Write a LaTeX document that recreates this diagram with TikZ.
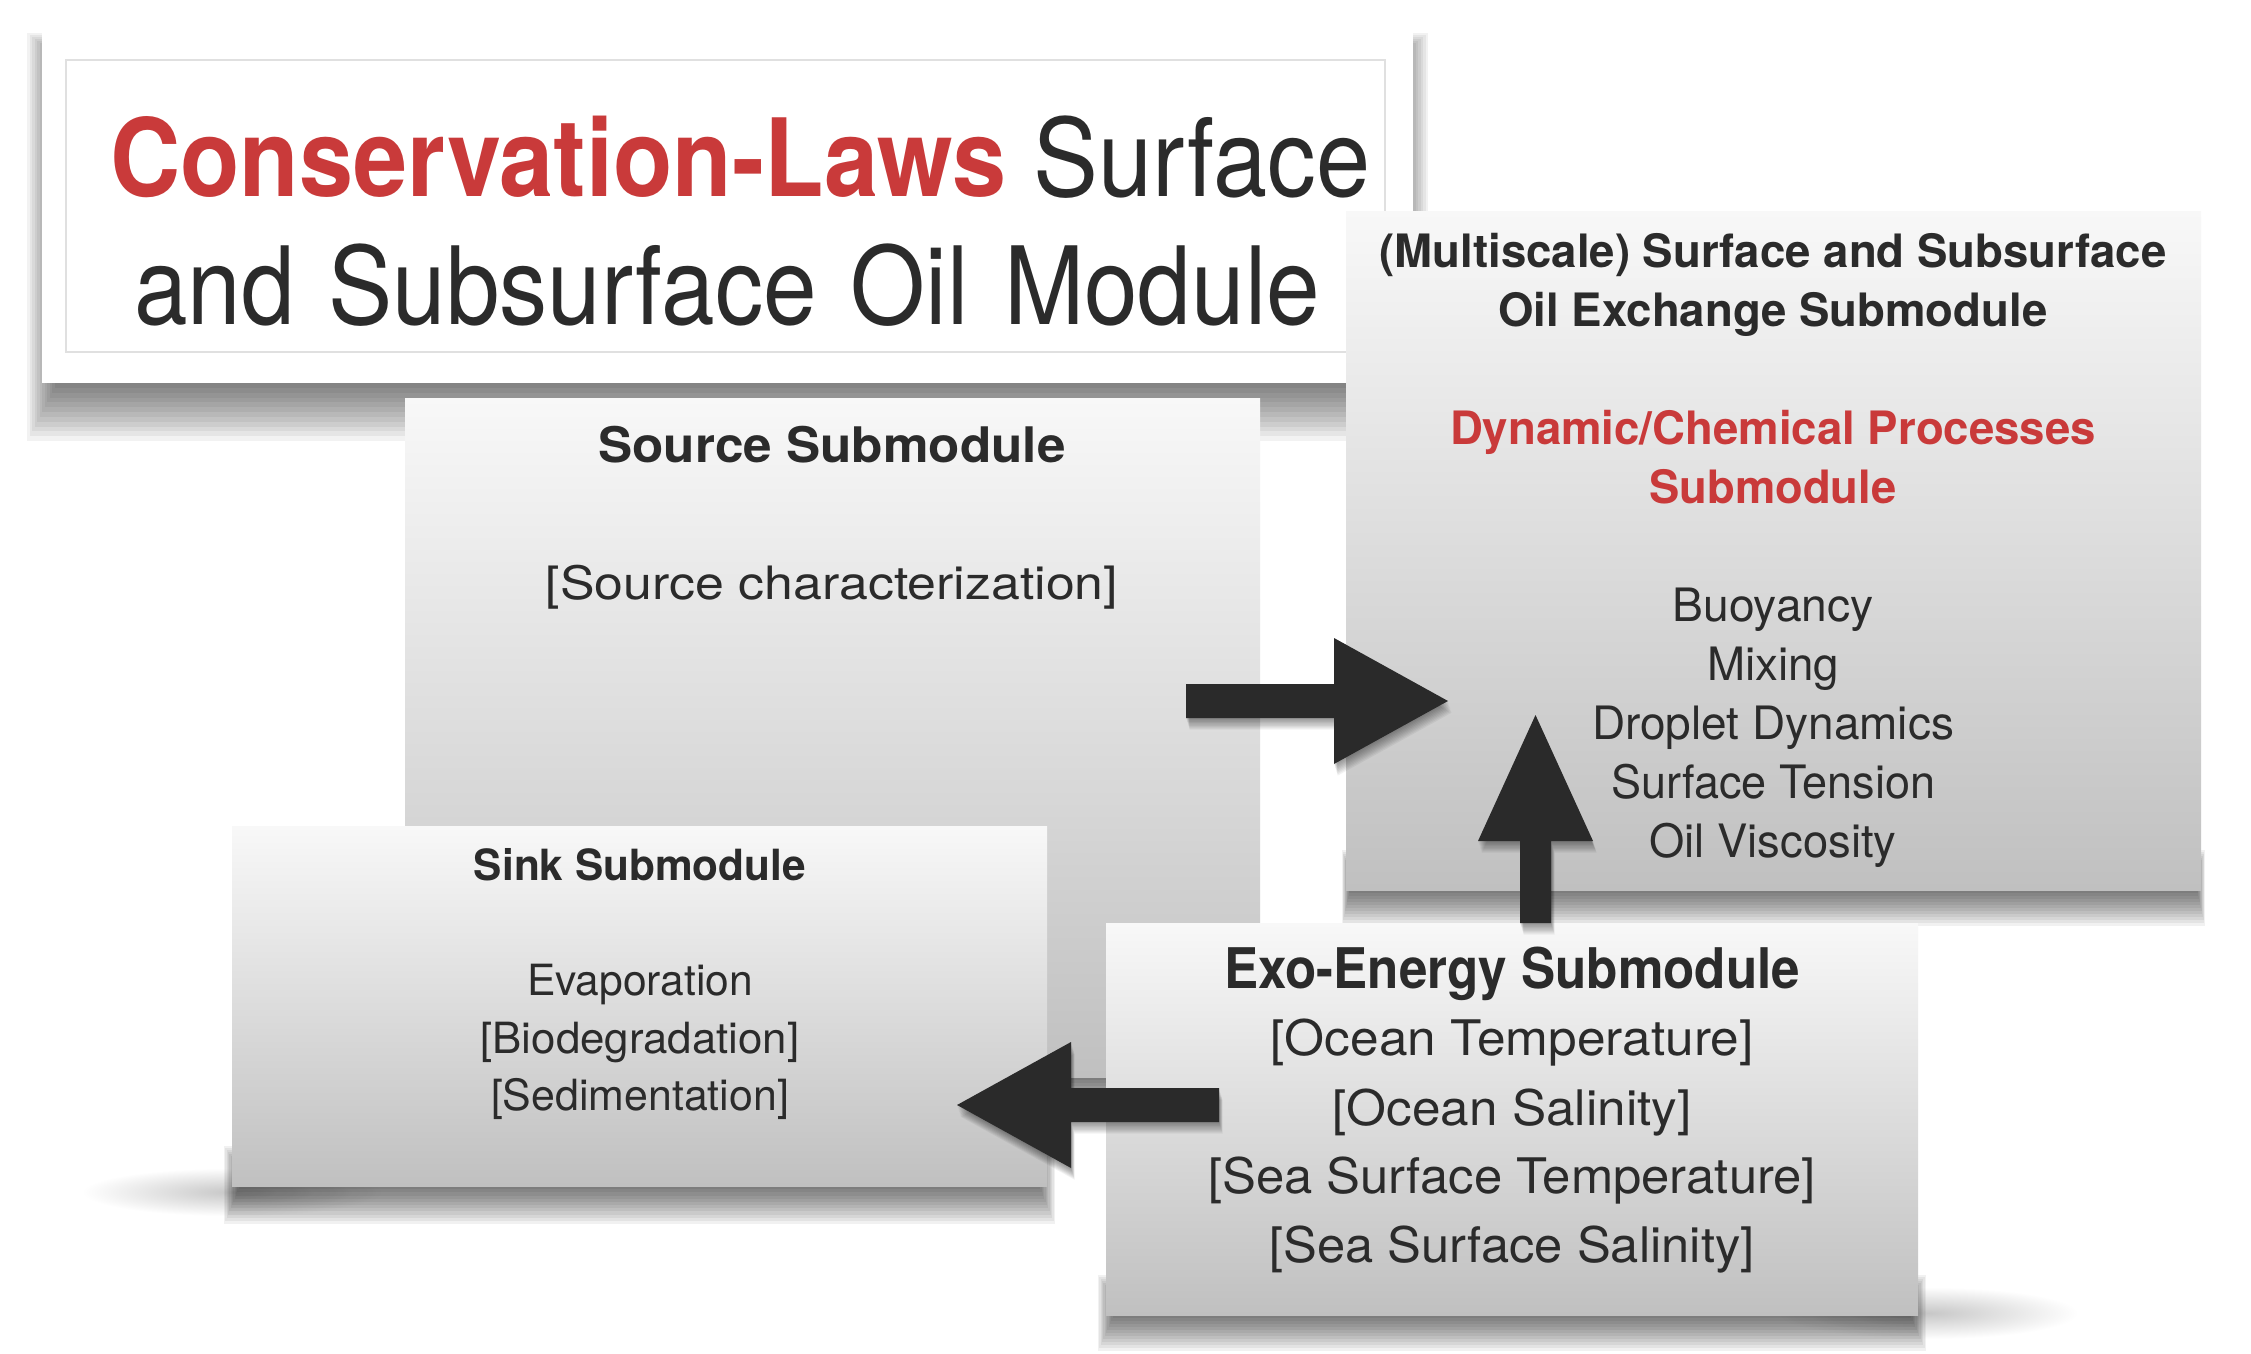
\documentclass[tikz,border=0pt]{standalone}
\usepackage{fontspec}
\setmainfont{TeX Gyre Heros}
\usetikzlibrary{arrows.meta,calc}
\definecolor{ink}{RGB}{43,43,43}
\definecolor{redt}{RGB}{201,58,58}
\definecolor{boxtop}{RGB}{248,248,248}
\definecolor{boxbot}{RGB}{192,192,192}
\definecolor{arrowc}{RGB}{42,42,42}
\definecolor{frameline}{RGB}{224,224,224}
\newcommand\fitline[3]{\resizebox{#1pt}{\height}{\fontsize{#2pt}{#2pt}\selectfont #3}}
% soft shadow under a node: #1 node, #2 side spread, #3 depth, #4 start above bottom, #5 layer opacity
\newcommand\boxshadow[5]{%
  \foreach \i in {0,...,11}{%
    \fill[black, opacity=#5]
      ($(#1.south west)+(-#2+#2*\i/6, -#4+\i*2)$) rectangle
      ($(#1.south east)+(#2-#2*\i/6, #3-#3*\i/12)$);
  }}
\newcommand\arrowA[1]{\fill[#1] (a1s) ++(0,-17) -- ++(148,0) -- ++(0,-46) -- (a1e)
  -- ++(-114,63) -- ++(0,-46) -- ++(-148,0) -- cycle;}
\newcommand\arrowB[1]{\fill[#1] (a2s) ++(-15.5,0) -- ++(0,-82) -- ++(-42,0) -- (a2e)
  -- ++(57.5,126) -- ++(-42,0) -- ++(0,82) -- cycle;}
\newcommand\arrowC[1]{\fill[#1] (a3s) ++(0,-17) -- ++(-148,0) -- ++(0,-46) -- (a3e)
  -- ++(114,63) -- ++(0,-46) -- ++(148,0) -- cycle;}
\newcommand\arrowshadow[1]{%
  \foreach \i in {1,...,9}{%
    \begin{scope}[transform canvas={shift={(0.4*\i,1.3*\i)}}]
      #1{black, opacity=0.05}
    \end{scope}
  }}
\begin{document}
\begin{tikzpicture}[x=1pt,y=-1pt,
  boxgeom/.style={anchor=north west, inner sep=0pt, outer sep=0pt},
  panel/.style={boxgeom, shading=axis, top color=boxtop, bottom color=boxbot, draw=none},
  lbl/.style={anchor=base, inner sep=0pt, outer sep=0pt, text=ink},
  blockarrow/.style={fill=arrowc},
  glow/.style={inner color=black!22, outer color=white}
]
\fill[white] (0,0) rectangle (2251,1354);
\useasboundingbox (0,0) rectangle (2251,1354);

% title panel
\node[boxgeom, minimum width=1371pt, minimum height=354pt] (titlebox) at (42,29) {};
\boxshadow{titlebox}{15}{58}{350}{0.05}
\node[boxgeom, fill=white, minimum width=1371pt, minimum height=354pt] (titlefill) at (titlebox.north west) {};
\node[boxgeom, draw=frameline, line width=1.5pt,
  minimum width=1319pt, minimum height=292pt] (titleframe) at (66,60) {};
\node[lbl, anchor=base west] (t1) at (110,196)
  {\fitline{1260}{108}{\textcolor{redt}{\bfseries Conservation-Laws} Surface}};
\node[lbl, anchor=base west] (t2) at (134,324)
  {\fitline{1186}{108}{and\hspace{38pt}Subsurface\hspace{38pt}Oil\hspace{40pt}Module}};

% boxes
\node[boxgeom, minimum width=855pt, minimum height=679pt] (source) at (405,398) {};
\boxshadow{source}{4}{36}{40}{0.055}
\node[panel, minimum width=855pt, minimum height=679pt] (sourcefill) at (source.north west) {};

\node[boxgeom, minimum width=855pt, minimum height=679pt] (multi) at (1346,211) {};
\boxshadow{multi}{4}{36}{40}{0.055}
\node[panel, minimum width=855pt, minimum height=679pt] (multifill) at (multi.north west) {};

\node[boxgeom, minimum width=815pt, minimum height=360pt] (sink) at (232,826) {};
\shade[glow] ($(sink.south west)+(0,6)$) ellipse [x radius=150, y radius=24];
\boxshadow{sink}{8}{38}{40}{0.055}
\node[panel, minimum width=815pt, minimum height=360pt] (sinkfill) at (sink.north west) {};

\node[boxgeom, minimum width=812pt, minimum height=392pt] (exo) at (1106,923) {};
\shade[glow] ($(exo.south east)+(10,-2)$) ellipse [x radius=150, y radius=26];
\boxshadow{exo}{8}{36}{40}{0.055}
\node[panel, minimum width=812pt, minimum height=392pt] (exofill) at (exo.north west) {};

% source text
\node[lbl] (s1) at (832,462) {\fitline{467}{49}{\bfseries Source Submodule}};
\node[lbl] (s2) at (832,599) {\fitline{572}{46}{[Source characterization]}};

% multiscale text
\node[lbl] (m1) at (1773,267) {\fitline{787}{46}{\bfseries (Multiscale) Surface and Subsurface}};
\node[lbl] (m2) at (1773,326) {\fitline{549}{46}{\bfseries Oil Exchange Submodule}};
\node[lbl, text=redt] (m3) at (1773,444) {\fitline{646}{46}{\bfseries Dynamic/Chemical Processes}};
\node[lbl, text=redt] (m4) at (1773,503) {\fitline{247}{46}{\bfseries Submodule}};
\node[lbl] (m5) at (1773,621) {\fitline{201}{46}{Buoyancy}};
\node[lbl] (m6) at (1773,680) {\fitline{132}{46}{Mixing}};
\node[lbl] (m7) at (1773,739) {\fitline{362}{46}{Droplet Dynamics}};
\node[lbl] (m8) at (1773,798) {\fitline{324}{46}{Surface Tension}};
\node[lbl] (m9) at (1773,857) {\fitline{247}{46}{Oil Viscosity}};

% sink text
\node[lbl] (k1) at (640,880) {\fitline{332}{43}{\bfseries Sink Submodule}};
\node[lbl] (k2) at (640,995) {\fitline{226}{43}{Evaporation}};
\node[lbl] (k3) at (640,1053) {\fitline{319}{43}{[Biodegradation]}};
\node[lbl] (k4) at (640,1110) {\fitline{298}{43}{[Sedimentation]}};

% exo text
\node[lbl] (e1) at (1512,988) {\fitline{576}{56}{\bfseries Exo-Energy Submodule}};
\node[lbl] (e2) at (1512,1055) {\fitline{483}{49}{[Ocean Temperature]}};
\node[lbl] (e3) at (1512,1125) {\fitline{359}{49}{[Ocean Salinity]}};
\node[lbl] (e4) at (1512,1193) {\fitline{608}{49}{[Sea Surface Temperature]}};
\node[lbl] (e5) at (1512,1262) {\fitline{485}{49}{[Sea Surface Salinity]}};

% arrows (source -> multi, exo -> multi, exo -> sink)
\coordinate (a1s) at ($(source.east)+(-74,-36.5)$);
\coordinate (a1e) at ($(multi.west)+(102,150.5)$);
\coordinate (a2s) at ($(exo.north)+(23.5,0)$);
\coordinate (a2e) at ($(multi.south)+(-238,-175)$);
\coordinate (a3s) at ($(exo.west)+(113,-14)$);
\coordinate (a3e) at ($(sink.east)+(-90,99)$);

\arrowshadow{\arrowA}
\arrowA{blockarrow}
\arrowshadow{\arrowB}
\arrowB{blockarrow}
\arrowshadow{\arrowC}
\arrowC{blockarrow}
\end{tikzpicture}
\end{document}
